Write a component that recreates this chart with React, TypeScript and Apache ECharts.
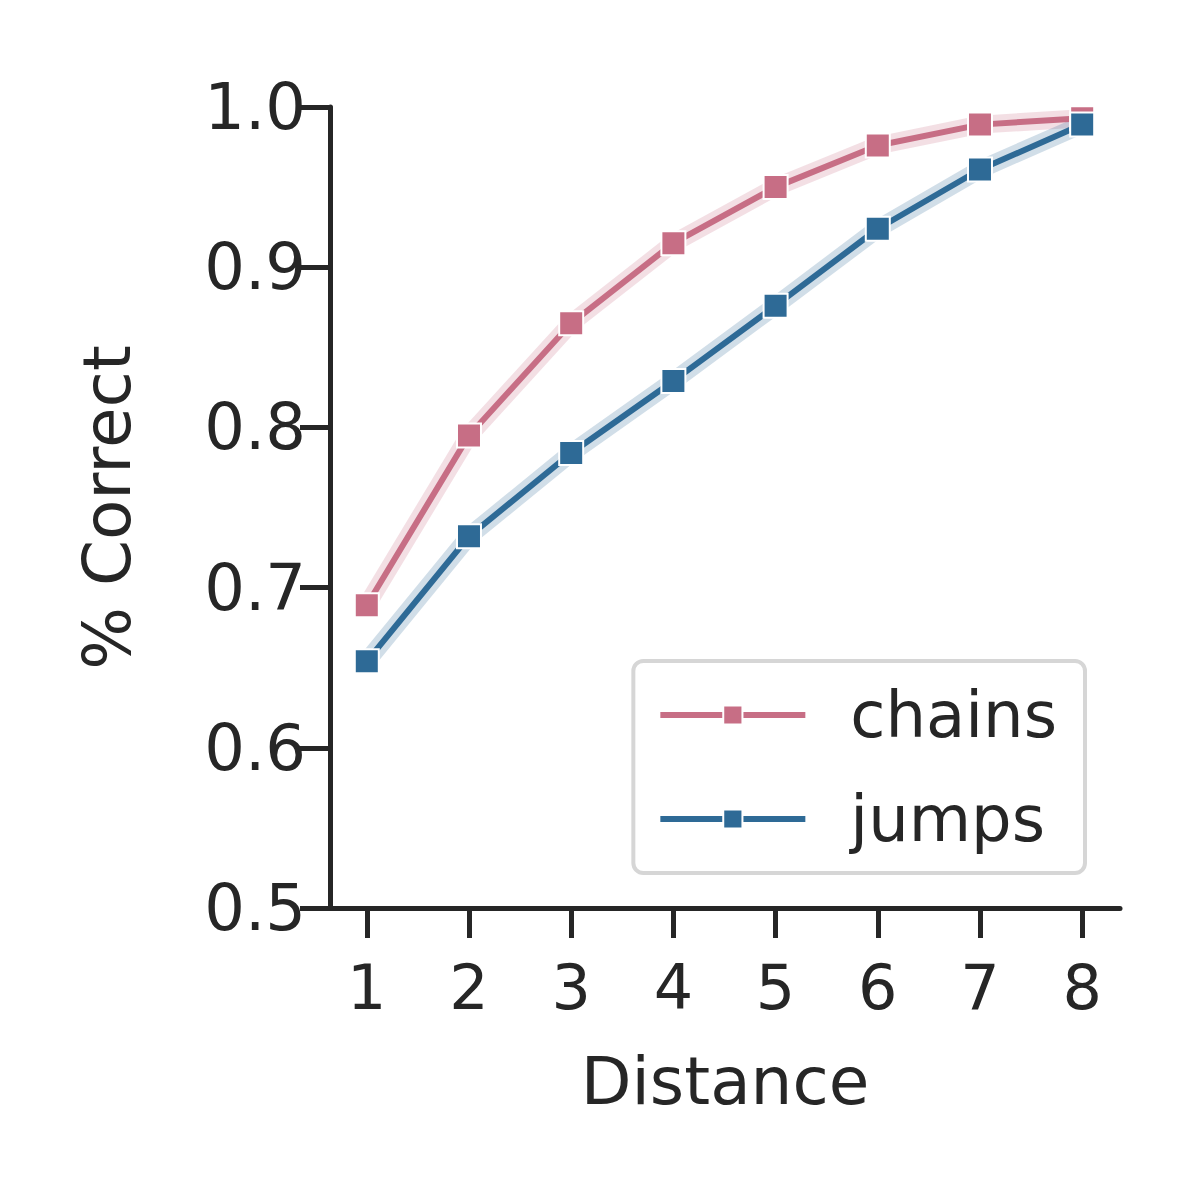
import React, { useEffect, useRef } from 'react';
import * as echarts from 'echarts';

const distances = [1, 2, 3, 4, 5, 6, 7, 8];
const chains = [0.689, 0.795, 0.865, 0.915, 0.95, 0.976, 0.989, 0.993];
const jumps = [0.654, 0.732, 0.784, 0.829, 0.876, 0.924, 0.961, 0.989];
const yTicks = [0.5, 0.6, 0.7, 0.8, 0.9, 1.0];

const PINK = '#c76e85';
const BLUE = '#2e6a96';
const TEXT = '#262626';

// confidence band approximated by a wide translucent line under each series
function bandSeries(name: string, vals: number[], color: string) {
  return {
    name: name + '-band',
    type: 'line',
    symbol: 'none',
    silent: true,
    data: distances.map((d, i) => [d, vals[i]]),
    lineStyle: { color, width: 18, opacity: 0.22 },
  };
}

export default function App() {
  const ref = useRef<HTMLDivElement>(null);

  useEffect(() => {
    document.body.style.margin = '0';
    if (!ref.current) return;
    const chart = echarts.init(ref.current, null, { renderer: 'svg' });
    chart.setOption({
      animation: false,
      backgroundColor: '#fff',
      textStyle: { fontFamily: 'DejaVu Sans', color: TEXT },
      grid: { left: 330, top: 107, right: 80, bottom: 292 },
      xAxis: {
        type: 'value',
        min: 0.64,
        max: 8.37,
        name: 'Distance',
        nameLocation: 'middle',
        nameGap: 140,
        nameTextStyle: { fontSize: 66, color: TEXT },
        axisLine: { lineStyle: { color: TEXT, width: 5 } },
        axisTick: { length: 30, lineStyle: { color: TEXT, width: 5 }, customValues: distances },
        axisLabel: { fontSize: 62, color: TEXT, margin: 48, customValues: distances },
        splitLine: { show: false },
      },
      yAxis: {
        type: 'value',
        min: 0.5,
        max: 1.0,
        interval: 0.1,
        name: '% Correct',
        nameLocation: 'middle',
        nameGap: 190,
        nameTextStyle: { fontSize: 66, color: TEXT },
        axisLine: { show: true, lineStyle: { color: TEXT, width: 5 } },
        axisTick: { show: true, length: 30, lineStyle: { color: TEXT, width: 5 } },
        axisLabel: { fontSize: 64, color: TEXT, margin: 24, formatter: (v: number) => v.toFixed(1), customValues: yTicks },
        splitLine: { show: false },
      },
      legend: {
        data: ['chains', 'jumps'],
        orient: 'vertical',
        right: 115,
        bottom: 327,
        padding: [22, 28, 22, 24],
        itemGap: 40,
        itemWidth: 145,
        itemHeight: 24,
        borderColor: '#d6d6d6',
        borderWidth: 4,
        borderRadius: 10,
        backgroundColor: '#fff',
        lineStyle: { width: 6 },
        textStyle: { fontSize: 64, color: TEXT, padding: [0, 0, 0, 40] },
      },
      series: [
        bandSeries('c', chains, PINK),
        bandSeries('j', jumps, BLUE),
        {
          name: 'chains',
          type: 'line',
          data: distances.map((d, i) => [d, chains[i]]),
          symbol: 'rect',
          symbolSize: 24,
          itemStyle: { color: PINK, borderColor: '#fff', borderWidth: 2 },
          lineStyle: { color: PINK, width: 6 },
        },
        {
          name: 'jumps',
          type: 'line',
          data: distances.map((d, i) => [d, jumps[i]]),
          symbol: 'rect',
          symbolSize: 24,
          itemStyle: { color: BLUE, borderColor: '#fff', borderWidth: 2 },
          lineStyle: { color: BLUE, width: 6 },
        },
      ],
    });
    return () => chart.dispose();
  }, []);

  return <div ref={ref} style={{ width: 1200, height: 1200 }} />;
}
